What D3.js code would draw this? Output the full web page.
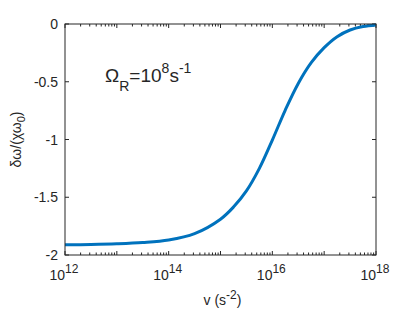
<!DOCTYPE html>
<html>
<head>
<meta charset="utf-8">
<script src="https://cdn.jsdelivr.net/npm/d3@7"></script>
<style>
  body { margin: 0; background: #fff; }
  text { font-family: "Liberation Sans", Arial, sans-serif; fill: #262626; }
</style>
</head>
<body>
<svg id="chart" width="415" height="312"></svg>
<script>
// curve: log10(v) and delta omega / (chi omega0)
const logV = [12, 12.5, 13, 13.5, 14, 14.5, 15, 15.25, 15.5, 15.75, 16, 16.25, 16.5, 16.75, 17, 17.25, 17.5, 17.75, 18];
const shift = [-1.912, -1.909, -1.903, -1.892, -1.87, -1.815, -1.69, -1.585, -1.445, -1.25, -1.005, -0.745, -0.515, -0.335, -0.205, -0.11, -0.052, -0.022, -0.008];

const xTickExp = [12, 14, 16, 18];
const yTicks = [0, -0.5, -1, -1.5, -2];

const margin = { left: 65, top: 24, right: 39, bottom: 57 };
const width = 415, height = 312;
const iw = width - margin.left - margin.right;
const ih = height - margin.top - margin.bottom;

const svg = d3.select('#chart');
const g = svg.append('g').attr('transform', `translate(${margin.left},${margin.top})`);

const x = d3.scaleLog().domain([1e12, 1e18]).range([0, iw]);
const y = d3.scaleLinear().domain([-2, 0]).range([ih, 0]);

const axisColor = '#262626';

// minor + major ticks for the log axis (inward, top and bottom)
const xMinor = [];
for (let e = 12; e < 18; e++) {
    for (let m = 2; m <= 9; m++) xMinor.push(m * Math.pow(10, e));
}
const xMajor = d3.range(12, 19).map(e => Math.pow(10, e));

function tickLines(vals, len, cls) {
    g.selectAll('.' + cls + 'b').data(vals).enter().append('line')
        .attr('x1', d => x(d)).attr('x2', d => x(d))
        .attr('y1', ih).attr('y2', ih - len)
        .attr('stroke', axisColor).attr('stroke-width', 1);
    g.selectAll('.' + cls + 't').data(vals).enter().append('line')
        .attr('x1', d => x(d)).attr('x2', d => x(d))
        .attr('y1', 0).attr('y2', len)
        .attr('stroke', axisColor).attr('stroke-width', 1);
}
tickLines(xMinor, 2.5, 'xmin');
tickLines(xMajor, 4, 'xmaj');

// y ticks (left and right)
g.selectAll('.ytl').data(yTicks).enter().append('line')
    .attr('x1', 0).attr('x2', 4)
    .attr('y1', d => y(d)).attr('y2', d => y(d))
    .attr('stroke', axisColor);
g.selectAll('.ytr').data(yTicks).enter().append('line')
    .attr('x1', iw).attr('x2', iw - 4)
    .attr('y1', d => y(d)).attr('y2', d => y(d))
    .attr('stroke', axisColor);

// curve
const line = d3.line()
    .x((d, i) => x(Math.pow(10, logV[i])))
    .y(d => y(d))
    .curve(d3.curveCatmullRom);

g.append('path')
    .datum(shift)
    .attr('d', line)
    .attr('fill', 'none')
    .attr('stroke', '#0072BD')
    .attr('stroke-width', 3);

// box
g.append('rect')
    .attr('x', 0).attr('y', 0).attr('width', iw).attr('height', ih)
    .attr('fill', 'none').attr('stroke', axisColor).attr('stroke-width', 1);

// y tick labels
g.selectAll('.ylab').data(yTicks).enter().append('text')
    .attr('x', -7).attr('y', d => y(d) + 5)
    .attr('text-anchor', 'end')
    .attr('font-size', 14)
    .text(d => String(d));

// x tick labels: 10 with superscript exponent
xTickExp.forEach(e => {
    const t = g.append('text')
        .attr('x', x(Math.pow(10, e)) - 1)
        .attr('y', ih + 25)
        .attr('text-anchor', 'middle')
        .attr('font-size', 14);
    t.append('tspan').text('10');
    t.append('tspan').attr('dy', -7).attr('font-size', 12).text(e);
});

// x label
const xl = svg.append('text')
    .attr('x', margin.left + iw / 2 + 2)
    .attr('y', 305)
    .attr('text-anchor', 'middle')
    .attr('font-size', 14);
xl.append('tspan').text('v (s');
xl.append('tspan').attr('dy', -6).attr('font-size', 12).text('-2');
xl.append('tspan').attr('dy', 6).text(')');

// y label
const yl = svg.append('text')
    .attr('transform', `translate(21,${margin.top + ih / 2}) rotate(-90)`)
    .attr('text-anchor', 'middle')
    .attr('font-size', 14);
yl.append('tspan').text('δω/(χω');
yl.append('tspan').attr('dy', 4).attr('font-size', 11).text('0');
yl.append('tspan').attr('dy', -4).text(')');

// annotation
const ann = svg.append('text')
    .attr('x', 105).attr('y', 81.5)
    .attr('font-size', 19);
ann.append('tspan').text('Ω');
ann.append('tspan').attr('dy', 9).attr('font-size', 14).text('R');
ann.append('tspan').attr('dy', -9).text('=10');
ann.append('tspan').attr('dy', -8.5).attr('font-size', 14).text('8');
ann.append('tspan').attr('dy', 8.5).text('s');
ann.append('tspan').attr('dy', -8.5).attr('font-size', 14).text('-1');
</script>
</body>
</html>
